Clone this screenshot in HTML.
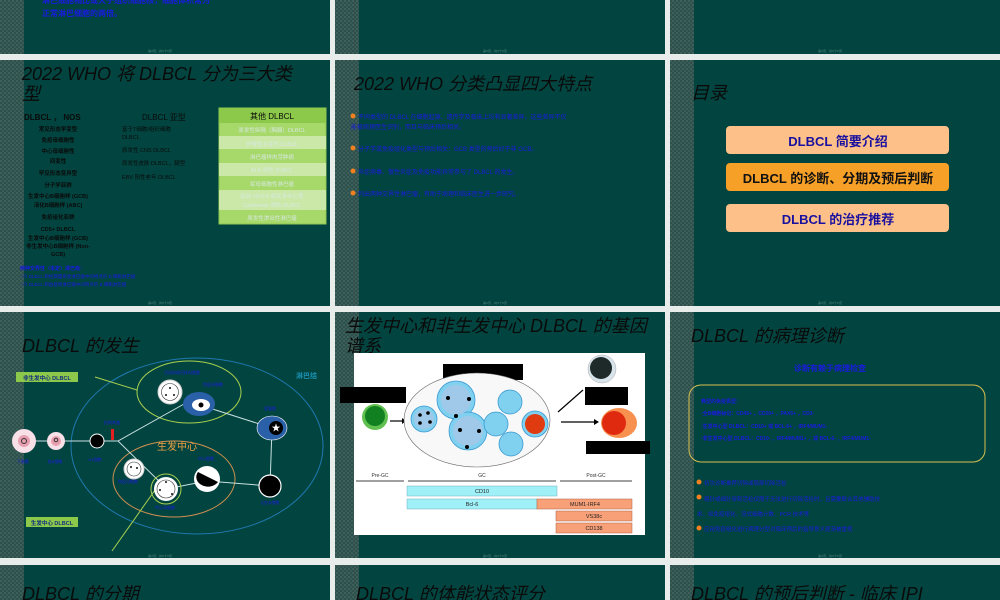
<!DOCTYPE html>
<html><head><meta charset="utf-8"><style>
html,body{margin:0;padding:0;background:#e8eceb;}
svg{display:block}
text{font-family:"Liberation Sans","Noto Sans CJK SC",sans-serif}
.t{font-style:italic;fill:#0a0a0a;font-size:18px}
.b{fill:#1a1ae0;font-size:6px;font-weight:bold}
.s{fill:#d8e8e0;font-size:5.5px}
.f{fill:#5a8a80;font-size:3px}
</style></head><body>
<svg width="1000" height="600" viewBox="0 0 1000 600" xmlns="http://www.w3.org/2000/svg">
<defs>
<pattern id="tex" width="4" height="4" patternUnits="userSpaceOnUse"><rect width="4" height="4" fill="#2d504c"/><rect width="2" height="2" fill="#3e605b"/><rect x="2" y="2" width="2" height="2" fill="#3a5c57"/></pattern>
<g id="sl"><rect width="330" height="246" fill="#024540"/><rect width="24" height="246" fill="url(#tex)"/></g>
</defs>
<rect width="1000" height="600" fill="#e8eceb"/>
<g><rect x="0" y="0" width="330" height="54" fill="#024540"/><rect x="0" y="0" width="24" height="54" fill="url(#tex)"/>
<rect x="335" y="0" width="330" height="54" fill="#024540"/><rect x="335" y="0" width="24" height="54" fill="url(#tex)"/>
<rect x="670" y="0" width="330" height="54" fill="#024540"/><rect x="670" y="0" width="24" height="54" fill="url(#tex)"/></g>
<text x="42" y="3" class="b" style="font-size:8px">淋巴细胞相比或大于组织细胞核，细胞体积常为</text>
<text x="42" y="16" class="b" style="font-size:8px">正常淋巴细胞的两倍。</text>
<text x="148" y="52" class="f">第X页，共X十X页</text><text x="483" y="52" class="f">第X页，共X十X页</text><text x="818" y="52" class="f">第X页，共X十X页</text>
<use href="#sl" x="0" y="60"/><use href="#sl" x="335" y="60"/><use href="#sl" x="670" y="60"/>
<use href="#sl" x="0" y="312"/><use href="#sl" x="335" y="312"/><use href="#sl" x="670" y="312"/>
<g><rect x="0" y="565" width="330" height="35" fill="#024540"/><rect x="0" y="565" width="24" height="35" fill="url(#tex)"/>
<rect x="335" y="565" width="330" height="35" fill="#024540"/><rect x="335" y="565" width="24" height="35" fill="url(#tex)"/>
<rect x="670" y="565" width="330" height="35" fill="#024540"/><rect x="670" y="565" width="24" height="35" fill="url(#tex)"/></g>

<text x="22" y="80" class="t">2022 WHO 将 DLBCL 分为三大类</text>
<text x="22" y="100" class="t">型</text>
<text x="24" y="120" font-size="8" font-weight="bold" fill="#0a0a0a">DLBCL ， NOS</text>
<g fill="#0a0a0a" font-size="5.5" text-anchor="middle" font-weight="bold">
<text x="58" y="131">常见形态学变型</text><text x="58" y="142">免疫母细胞性</text><text x="58" y="153">中心母细胞性</text><text x="58" y="163">间变性</text><text x="58" y="175">罕见形态变异型</text><text x="58" y="187">分子学亚群</text><text x="58" y="198">生发中心B细胞样 (GCB)</text><text x="58" y="207">活化B细胞样 (ABC)</text><text x="58" y="219">免疫组化亚群</text><text x="58" y="231">CD5+ DLBCL</text><text x="58" y="240">生发中心B细胞样 (GCB)</text><text x="58" y="248">非生发中心B细胞样 (Non-</text><text x="58" y="256">GCB)</text></g>
<text x="142" y="120" font-size="8" fill="#0a0a0a">DLBCL 亚型</text>
<g fill="#0a0a0a" font-size="5.5"><text x="122" y="131">富于T细胞/组织细胞</text><text x="122" y="139">DLBCL</text><text x="122" y="152">原发性 CNS DLBCL</text><text x="122" y="165">原发性皮肤 DLBCL，腿型</text><text x="122" y="179">EBV 阳性老年 DLBCL</text></g>
<rect x="219" y="108" width="107" height="116" fill="#a6d86a" stroke="#8cc850"/>
<rect x="219" y="108" width="107" height="15" fill="#8cc84a"/>
<rect x="219" y="136" width="107" height="13" fill="#cbe8a8"/>
<rect x="219" y="163" width="107" height="13" fill="#cbe8a8"/>
<rect x="219" y="190" width="107" height="20" fill="#cbe8a8"/>
<text x="272" y="119" font-size="8" fill="#0a0a0a" text-anchor="middle">其他 DLBCL</text>
<g class="s" text-anchor="middle" fill="#f0f8e8"><text x="272" y="132">原发性纵隔（胸腺）DLBCL</text><text x="272" y="146">伴慢性炎症的 DLBCL</text><text x="272" y="159">淋巴瘤样肉芽肿病</text><text x="272" y="172">ALK 阳性 DLBCL</text><text x="272" y="186">浆母细胞性淋巴瘤</text><text x="272" y="198">起自 HHV-8 相关多中心型</text><text x="272" y="207">Castleman 病的 DLBCL</text><text x="272" y="220">原发性渗出性淋巴瘤</text></g>
<text x="20" y="270" class="b" style="font-size:5px">两种交界性（未定）淋巴瘤：</text>
<text x="20" y="278" fill="#1a1ae0" font-size="4.5">--介 DLBCL 和经典霍奇金淋巴瘤中间特点的 B 细胞淋巴瘤</text>
<text x="20" y="286" fill="#1a1ae0" font-size="4.5">--介 DLBCL 和伯基特淋巴瘤中间特点的 B 细胞淋巴瘤</text>
<text x="148" y="304" class="f">第X页，共X十X页</text>

<text x="354" y="90" class="t">2022 WHO 分类凸显四大特点</text>
<g fill="#f08020"><circle cx="353" cy="116" r="2.5"/><circle cx="353" cy="148" r="2.5"/><circle cx="353" cy="171" r="2.5"/><circle cx="353" cy="193" r="2.5"/></g>
<g fill="#1a1ae0" font-size="6"><text x="358" y="119">不同类型的 DLBCL 在细胞起源、遗传学及临床上均有显著差异，这些差异不仅</text><text x="351" y="129">能被病理医生识别，而且与临床预后相关。</text>
<text x="358" y="151">分子学或免疫组化类型与预后相关：GCB 类型的预后好于非 GCB。</text>
<text x="358" y="174">炎症病毒、慢性炎症及免疫功能异常参与了 DLBCL 的发生。</text>
<text x="358" y="196">列出两种交界性淋巴瘤，有助于病理和临床医生进一步研究。</text></g>
<text x="483" y="304" class="f">第X页，共X十X页</text>

<text x="691" y="99" class="t">目录</text>
<rect x="726" y="126" width="223" height="28" rx="4" fill="#fcc088"/>
<rect x="726" y="163" width="223" height="28" rx="4" fill="#f7a028"/>
<rect x="726" y="204" width="223" height="28" rx="4" fill="#fcc088"/>
<g font-size="13" font-weight="bold" text-anchor="middle"><text x="838" y="146" fill="#1a10a0">DLBCL 简要介绍</text><text x="838" y="183" fill="#111">DLBCL 的诊断、分期及预后判断</text><text x="838" y="224" fill="#1a10a0">DLBCL 的治疗推荐</text></g>
<text x="818" y="304" class="f">第X页，共X十X页</text>

<text x="22" y="352" class="t">DLBCL 的发生</text>
<ellipse cx="197" cy="446" rx="126" ry="88" fill="none" stroke="#1f78b0" stroke-width="1"/>
<ellipse cx="189" cy="392" rx="52" ry="31" fill="none" stroke="#a8d050" stroke-width="1"/>
<ellipse cx="174" cy="479" rx="61" ry="38" fill="none" stroke="#d09050" stroke-width="1"/>
<text x="296" y="378" fill="#1a90b0" font-size="7" font-weight="bold">淋巴结</text>
<rect x="16" y="372" width="62" height="10" fill="#8cc84a"/><text x="47" y="380" text-anchor="middle" font-size="5.5" font-weight="bold" fill="#103080">非生发中心 DLBCL</text>
<rect x="26" y="517" width="52" height="10" fill="#8cc84a"/><text x="52" y="525" text-anchor="middle" font-size="5.5" font-weight="bold" fill="#103080">生发中心 DLBCL</text>
<g stroke="#c8e0e0" stroke-width="1" fill="none"><polyline points="24,441 97,441 118,441 184,404"/><line x1="118" y1="441" x2="165" y2="487"/><line x1="200" y1="405" x2="272" y2="428"/><line x1="272" y1="428" x2="270" y2="486"/><line x1="207" y1="481" x2="270" y2="486"/><line x1="166" y1="489" x2="207" y2="481"/></g>
<g stroke="#a8d050" stroke-width="1"><line x1="95" y1="377" x2="137" y2="390"/><line x1="155" y1="490" x2="112" y2="551"/></g>
<circle cx="24" cy="441" r="12" fill="#f8e0e8"/><circle cx="24" cy="441" r="6" fill="#e8a0b0"/><circle cx="24" cy="441" r="2.5" fill="none" stroke="#333"/>
<circle cx="56" cy="441" r="9" fill="#f8e0e8"/><circle cx="56" cy="441" r="5" fill="#e8a0b0"/><circle cx="56" cy="440" r="1.8" fill="none" stroke="#333"/>
<circle cx="97" cy="441" r="7" fill="#000" stroke="#fff" stroke-width="1"/>
<rect x="111" y="429" width="3" height="11" fill="#e02020"/>
<circle cx="170" cy="392" r="12" fill="#fff" stroke="#ccc"/><circle cx="170" cy="392" r="8.5" fill="none" stroke="#333" stroke-width="0.6"/><g fill="#111"><circle cx="170" cy="388" r="1"/><circle cx="166" cy="395" r="1"/><circle cx="174" cy="395" r="1"/></g>
<ellipse cx="199" cy="404" rx="16" ry="12" fill="#2a60a8"/><ellipse cx="201" cy="405" rx="9" ry="6" fill="#fff"/><circle cx="201" cy="405" r="2.5" fill="#000"/>
<ellipse cx="272" cy="428" rx="15" ry="12" fill="#2a60a8" stroke="#fff" stroke-width="0.6"/><circle cx="276" cy="428" r="7" fill="#000"/><text x="276" y="431" fill="#fff" font-size="9" text-anchor="middle">★</text>
<circle cx="134" cy="469" r="10" fill="#fff" stroke="#ccc"/><circle cx="134" cy="469" r="7" fill="none" stroke="#333" stroke-width="0.6"/><circle cx="131" cy="467" r="1" fill="#111"/><circle cx="137" cy="468" r="1" fill="#111"/>
<circle cx="166" cy="489" r="15" fill="none" stroke="#a8d050"/><circle cx="166" cy="489" r="12" fill="#fff"/><circle cx="166" cy="489" r="9" fill="none" stroke="#333" stroke-width="0.6"/><g fill="#111"><circle cx="166" cy="482" r="1"/><circle cx="160" cy="490" r="1"/><circle cx="172" cy="494" r="1"/></g>
<circle cx="207" cy="479" r="13" fill="#fff"/><path d="M198 472 a11 9 0 1 0 20 10 z" fill="#000"/>
<circle cx="270" cy="486" r="11" fill="#000" stroke="#fff" stroke-width="1.2"/>
<text x="177" y="450" fill="#f0a040" font-size="10" text-anchor="middle">生发中心</text>
<g fill="#1a1ae0" font-size="4"><text x="23" y="463" text-anchor="middle">干细胞</text><text x="55" y="463" text-anchor="middle">前B细胞</text><text x="95" y="461" text-anchor="middle">B1细胞</text><text x="112" y="424" text-anchor="middle">抗原刺激</text><text x="182" y="374" text-anchor="middle">活化的淋巴样母细胞</text><text x="213" y="386" text-anchor="middle">免疫母细胞</text><text x="270" y="410" text-anchor="middle">浆细胞</text><text x="128" y="483" text-anchor="middle">免疫母细胞</text><text x="206" y="460" text-anchor="middle">中心细胞</text><text x="165" y="509" text-anchor="middle">中心母细胞</text><text x="270" y="504" text-anchor="middle">记忆B细胞</text></g>
<text x="148" y="557" class="f">第X页，共X十X页</text>

<text x="345" y="332" class="t">生发中心和非生发中心 DLBCL 的基因</text>
<text x="345" y="352" class="t">谱系</text>
<rect x="354" y="353" width="291" height="182" fill="#fff"/>
<rect x="340" y="387" width="66" height="16" fill="#000"/>
<rect x="443" y="364" width="80" height="16" fill="#000"/>
<rect x="585" y="387" width="43" height="18" fill="#000"/>
<rect x="586" y="441" width="64" height="13" fill="#000"/>
<circle cx="375" cy="417" r="13" fill="#60c050"/><circle cx="375" cy="416" r="10" fill="#108020"/>
<line x1="390" y1="421" x2="402" y2="421" stroke="#000" stroke-width="1.2"/><path d="M402 418 l4 3 l-4 3z"/>
<ellipse cx="477" cy="420" rx="73" ry="47" fill="#f8f8f8" stroke="#666" stroke-width="0.6"/>
<g fill="#80d0f0" stroke="#3a9ad0" stroke-width="0.8"><circle cx="424" cy="419" r="13"/><circle cx="456" cy="400" r="19"/><circle cx="468" cy="431" r="19"/><circle cx="510" cy="402" r="12"/><circle cx="496" cy="424" r="12"/><circle cx="511" cy="444" r="12"/><circle cx="535" cy="424" r="13"/></g>
<g fill="#a0c8e8"><circle cx="424" cy="419" r="10"/><circle cx="456" cy="400" r="15"/><circle cx="468" cy="431" r="15"/></g>
<g fill="#000"><circle cx="420" cy="415" r="1.8"/><circle cx="428" cy="413" r="1.8"/><circle cx="420" cy="423" r="1.8"/><circle cx="430" cy="422" r="1.8"/><circle cx="448" cy="398" r="2"/><circle cx="469" cy="399" r="2"/><circle cx="456" cy="416" r="2"/><circle cx="460" cy="430" r="2"/><circle cx="479" cy="431" r="2"/><circle cx="467" cy="447" r="2"/></g>
<circle cx="535" cy="424" r="10" fill="#e03a10"/>
<line x1="558" y1="412" x2="583" y2="390" stroke="#000" stroke-width="1.2"/>
<line x1="561" y1="422" x2="594" y2="422" stroke="#000" stroke-width="1.2"/><path d="M594 419 l5 3 l-5 3z"/>
<circle cx="602" cy="369" r="14" fill="#d8e4ec" stroke="#aaa" stroke-width="0.5"/><circle cx="601" cy="368" r="11" fill="#1e2a2a"/>
<ellipse cx="619" cy="423" rx="18" ry="15" fill="#f89050"/><circle cx="614" cy="423" r="12" fill="#e02a10"/>
<g stroke="#000" stroke-width="0.8"><line x1="356" y1="481" x2="404" y2="481"/><line x1="408" y1="481" x2="556" y2="481"/><line x1="560" y1="481" x2="632" y2="481"/></g>
<g font-size="5" fill="#333" text-anchor="middle"><text x="380" y="477">Pre-GC</text><text x="482" y="477">GC</text><text x="596" y="477">Post-GC</text></g>
<rect x="407" y="486" width="150" height="10" fill="#a0f0f8" stroke="#70b0c0" stroke-width="0.5"/>
<rect x="407" y="499" width="130" height="10" fill="#a0f0f8" stroke="#70b0c0" stroke-width="0.5"/>
<rect x="537" y="499" width="95" height="10" fill="#f8a078" stroke="#b06040" stroke-width="0.5"/>
<rect x="556" y="511" width="76" height="10" fill="#f8a078" stroke="#b06040" stroke-width="0.5"/>
<rect x="556" y="523" width="76" height="10" fill="#f8a078" stroke="#b06040" stroke-width="0.5"/>
<g font-size="5.5" fill="#222" text-anchor="middle"><text x="482" y="493">CD10</text><text x="472" y="506">Bcl-6</text><text x="585" y="506">MUM1-IRF4</text><text x="594" y="518">VS38c</text><text x="594" y="530">CD138</text></g>
<text x="483" y="557" class="f">第X页，共X十X页</text>

<text x="691" y="342" class="t">DLBCL 的病理诊断</text>
<text x="830" y="371" fill="#1a1ae0" font-size="8" font-weight="bold" text-anchor="middle">诊断有赖于病理检查</text>
<rect x="689" y="385" width="296" height="77" rx="12" fill="none" stroke="#d8c050" stroke-width="1"/>
<g fill="#1a1ae0" font-size="5" font-weight="bold"><text x="701" y="403">典型的免疫表型：</text><text x="701" y="415">·全B细胞标记：CD45+ ，CD20+ ，PAX5+ ，CD3-</text><text x="701" y="428">·生发中心型 DLBCL：CD10+ 或 BCL-6+ ，IRF4/MUM1-</text><text x="701" y="440">·非生发中心型 DLBCL：CD10- ，IRF4/MUM1+ ，或 BCL-6- ，IRF4/MUM1-</text></g>
<g fill="#f08020"><circle cx="699" cy="482" r="2.5"/><circle cx="699" cy="497" r="2.5"/><circle cx="699" cy="528" r="2.5"/></g>
<g fill="#1a1ae0" font-size="5.5"><text x="704" y="485">初次诊断推荐切除或局部切除活检</text><text x="704" y="501">粗针或细针穿刺活检仅限于无法进行切除活检时，且需要联合其他辅助技</text><text x="697" y="516">术，如免疫组化、流式细胞计数、PCR 技术等</text><text x="704" y="531">应用免疫组化进行病理分型对临床预后的指导意义逐渐被重视</text></g>
<text x="818" y="557" class="f">第X页，共X十X页</text>

<text x="22" y="600" class="t">DLBCL 的分期</text>
<text x="356" y="600" class="t">DLBCL 的体能状态评分</text>
<text x="691" y="600" class="t">DLBCL 的预后判断 - 临床 IPI</text>
</svg>
</body></html>
